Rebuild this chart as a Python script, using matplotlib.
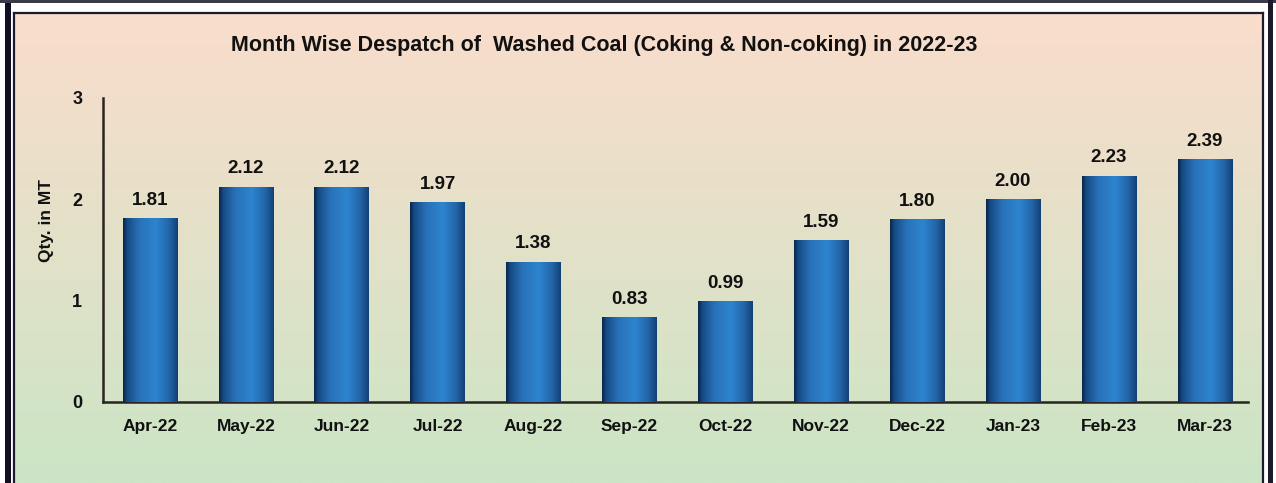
import matplotlib.pyplot as plt
import numpy as np
from matplotlib.patches import Rectangle

plt.rcParams['font.family'] = ['Liberation Sans', 'DejaVu Sans']
plt.rcParams['font.weight'] = 'bold'

# month-wise despatch of washed coal, 2022-23 (million tonnes)
months = ['Apr-22', 'May-22', 'Jun-22', 'Jul-22', 'Aug-22', 'Sep-22',
          'Oct-22', 'Nov-22', 'Dec-22', 'Jan-23', 'Feb-23', 'Mar-23']
despatch = [1.81, 2.12, 2.12, 1.97, 1.38, 0.83, 0.99, 1.59, 1.80, 2.00, 2.23, 2.39]
yticks = [0, 1, 2, 3]

W, H = 1276, 483
fig = plt.figure(figsize=(W / 100, H / 100), dpi=100)

# ---- background panel with peach-to-green wash and double frame ----
bg = fig.add_axes([0, 0, 1, 1], zorder=-10)
bg.set_xlim(0, W)
bg.set_ylim(H, 0)
bg.axis('off')
top_c = np.array([250, 221, 204]) / 255
bot_c = np.array([203, 229, 197]) / 255
t = np.linspace(0, 1, 256)[:, None]
wash = top_c * (1 - t[..., None]) + bot_c * t[..., None]
wash = np.repeat(wash, 2, axis=1)
bg.add_patch(Rectangle((0, 0), W, H, facecolor='white', edgecolor='none'))
bg.imshow(wash, extent=[15, 1262, H, 13], aspect='auto', zorder=1)
# inner thin frame
bg.plot([14, 14], [H, 12.5], color='#1c1a2e', lw=1.6, zorder=3)
bg.plot([14, 1263], [12.5, 12.5], color='#1c1a2e', lw=1.6, zorder=3)
bg.plot([1263, 1263], [12.5, H], color='#1c1a2e', lw=1.6, zorder=3)
# outer heavy frame
bg.add_patch(Rectangle((5, 0), 6, H, facecolor='#0f0e22', edgecolor='none', zorder=3))
bg.add_patch(Rectangle((0, 0), W, 3, facecolor='#3a3a48', edgecolor='none', zorder=3))
bg.add_patch(Rectangle((1268, 0), 5, H, facecolor='#1a1a2a', edgecolor='none', zorder=3))

# ---- chart ----
ax = fig.add_axes([103 / W, 1 - 402 / H, (1248 - 103) / W, (402 - 98) / H])
ax.set_facecolor('none')

x = np.arange(len(months))
bars = ax.bar(x, despatch, width=0.57, color='#1f6db5', zorder=2)

# cylindrical shading across each bar
u = np.linspace(0, 1, 200)
prof = np.interp(u, [0, 0.08, 0.3, 0.6, 0.85, 1.0], [0.03, 0.42, 0.82, 1.0, 0.68, 0.3])
dark = np.array([6, 34, 76]) / 255
light = np.array([46, 132, 208]) / 255
shade = dark + (light - dark) * prof[:, None]
shade = shade[None, :, :]
for b in bars:
    x0, w, h = b.get_x(), b.get_width(), b.get_height()
    ax.imshow(shade, extent=[x0, x0 + w, 0, h], aspect='auto', zorder=3)

for b, v in zip(bars, despatch):
    ax.annotate(f'{v:.2f}', (b.get_x() + b.get_width() / 2, v),
                xytext=(0, 7), textcoords='offset points',
                ha='center', va='bottom', fontsize=13.5, fontweight='bold',
                color='#111111')

ax.set_xlim(-0.49, len(months) - 0.55)
ax.set_ylim(0, 3)
ax.set_xticks(x)
ax.set_xticklabels(months, fontsize=12.5, fontweight='bold', color='#111111')
ax.set_yticks(yticks)
ax.set_yticklabels([str(v) for v in yticks], fontsize=13, fontweight='bold', color='#111111')
ax.tick_params(axis='x', length=0, pad=12)
ax.tick_params(axis='y', length=0, pad=15)
for s in ['top', 'right']:
    ax.spines[s].set_visible(False)
for s in ['left', 'bottom']:
    ax.spines[s].set_color('#2b2420')
    ax.spines[s].set_linewidth(1.8)

fig.text(47 / W, 1 - 221 / H, 'Qty. in MT', rotation=90, ha='center', va='center',
         fontsize=12.5, fontweight='bold', color='#111111')
fig.text(604 / W, 1 - 45 / H,
         'Month Wise Despatch of  Washed Coal (Coking & Non-coking) in 2022-23',
         ha='center', va='center', fontsize=15.5, fontweight='bold', color='#111111')

fig.savefig('out.png', dpi=100)
